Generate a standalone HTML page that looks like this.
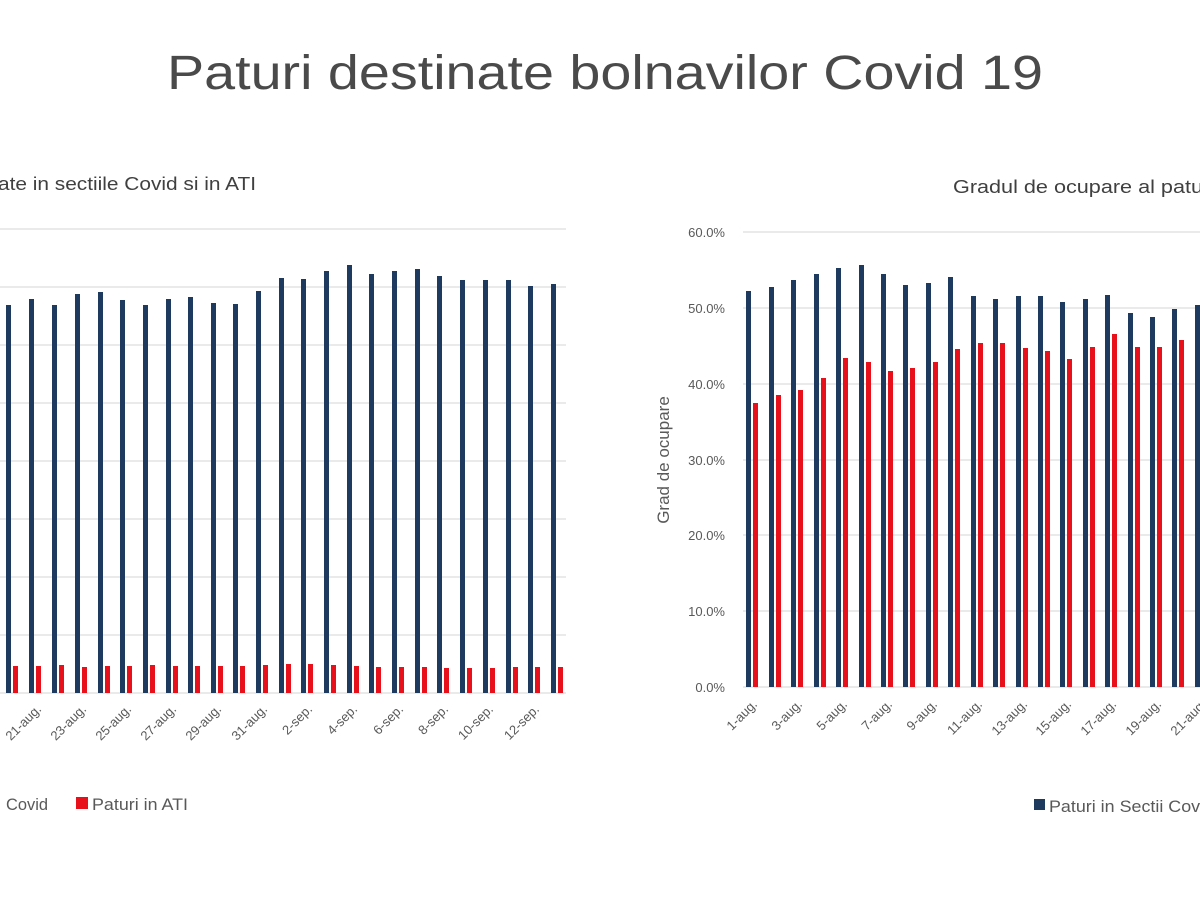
<!DOCTYPE html>
<html><head><meta charset="utf-8"><style>
html,body{margin:0;padding:0;background:#fff;width:1200px;height:900px;overflow:hidden}
svg{display:block}
text{font-family:"Liberation Sans",sans-serif;fill:#595959}
</style></head><body>
<svg width="1200" height="900" viewBox="0 0 1200 900">
<text x="605" y="89" text-anchor="middle" font-size="48" style="fill:#4a4a4a" textLength="876" lengthAdjust="spacingAndGlyphs">Paturi destinate bolnavilor Covid 19</text>

<!-- LEFT CHART -->
<text x="-2" y="190" font-size="18" style="fill:#404040" textLength="258" lengthAdjust="spacingAndGlyphs">ate in sectiile Covid si in ATI</text>
<g stroke="#e3e3e3" stroke-width="1.5">
<line x1="0" x2="566" y1="229" y2="229"/><line x1="0" x2="566" y1="287" y2="287"/><line x1="0" x2="566" y1="345" y2="345"/><line x1="0" x2="566" y1="403" y2="403"/><line x1="0" x2="566" y1="461" y2="461"/><line x1="0" x2="566" y1="519" y2="519"/><line x1="0" x2="566" y1="577" y2="577"/><line x1="0" x2="566" y1="635" y2="635"/><line x1="0" x2="566" y1="693" y2="693"/>
</g>
<g fill="#1f3a5f">
<rect x="6" y="305" width="5" height="388"/><rect x="29" y="299" width="5" height="394"/><rect x="52" y="305" width="5" height="388"/><rect x="75" y="294" width="5" height="399"/><rect x="98" y="292" width="5" height="401"/><rect x="120" y="300" width="5" height="393"/><rect x="143" y="305" width="5" height="388"/><rect x="166" y="299" width="5" height="394"/><rect x="188" y="297" width="5" height="396"/><rect x="211" y="303" width="5" height="390"/><rect x="233" y="304" width="5" height="389"/><rect x="256" y="291" width="5" height="402"/><rect x="279" y="278" width="5" height="415"/><rect x="301" y="279" width="5" height="414"/><rect x="324" y="271" width="5" height="422"/><rect x="347" y="265" width="5" height="428"/><rect x="369" y="274" width="5" height="419"/><rect x="392" y="271" width="5" height="422"/><rect x="415" y="269" width="5" height="424"/><rect x="437" y="276" width="5" height="417"/><rect x="460" y="280" width="5" height="413"/><rect x="483" y="280" width="5" height="413"/><rect x="506" y="280" width="5" height="413"/><rect x="528" y="286" width="5" height="407"/><rect x="551" y="284" width="5" height="409"/>
</g>
<g fill="#e8101a">
<rect x="13" y="666" width="5" height="27"/><rect x="36" y="666" width="5" height="27"/><rect x="59" y="665" width="5" height="28"/><rect x="82" y="667" width="5" height="26"/><rect x="105" y="666" width="5" height="27"/><rect x="127" y="666" width="5" height="27"/><rect x="150" y="665" width="5" height="28"/><rect x="173" y="666" width="5" height="27"/><rect x="195" y="666" width="5" height="27"/><rect x="218" y="666" width="5" height="27"/><rect x="240" y="666" width="5" height="27"/><rect x="263" y="665" width="5" height="28"/><rect x="286" y="664" width="5" height="29"/><rect x="308" y="664" width="5" height="29"/><rect x="331" y="665" width="5" height="28"/><rect x="354" y="666" width="5" height="27"/><rect x="376" y="667" width="5" height="26"/><rect x="399" y="667" width="5" height="26"/><rect x="422" y="667" width="5" height="26"/><rect x="444" y="668" width="5" height="25"/><rect x="467" y="668" width="5" height="25"/><rect x="490" y="668" width="5" height="25"/><rect x="513" y="667" width="5" height="26"/><rect x="535" y="667" width="5" height="26"/><rect x="558" y="667" width="5" height="26"/>
</g>
<g font-size="13" text-anchor="end">
<text transform="translate(42,710) rotate(-45)">21-aug.</text>
<text transform="translate(87,710) rotate(-45)">23-aug.</text>
<text transform="translate(132,710) rotate(-45)">25-aug.</text>
<text transform="translate(177,710) rotate(-45)">27-aug.</text>
<text transform="translate(222,710) rotate(-45)">29-aug.</text>
<text transform="translate(268,710) rotate(-45)">31-aug.</text>
<text transform="translate(313,710) rotate(-45)">2-sep.</text>
<text transform="translate(358,710) rotate(-45)">4-sep.</text>
<text transform="translate(404,710) rotate(-45)">6-sep.</text>
<text transform="translate(449,710) rotate(-45)">8-sep.</text>
<text transform="translate(494,710) rotate(-45)">10-sep.</text>
<text transform="translate(540,710) rotate(-45)">12-sep.</text>
</g>
<text x="6" y="810" font-size="17" textLength="42" lengthAdjust="spacingAndGlyphs">Covid</text>
<rect x="76" y="797" width="12" height="12" fill="#e8101a"/>
<text x="92" y="810" font-size="17" textLength="96" lengthAdjust="spacingAndGlyphs">Paturi in ATI</text>

<!-- RIGHT CHART -->
<text x="953" y="193" font-size="18" style="fill:#404040" textLength="262" lengthAdjust="spacingAndGlyphs">Gradul de ocupare al paturi</text>
<g stroke="#e3e3e3" stroke-width="1.5">
<line x1="743" x2="1200" y1="232" y2="232"/><line x1="743" x2="1200" y1="308" y2="308"/><line x1="743" x2="1200" y1="384" y2="384"/><line x1="743" x2="1200" y1="460" y2="460"/><line x1="743" x2="1200" y1="535" y2="535"/><line x1="743" x2="1200" y1="611" y2="611"/><line x1="743" x2="1200" y1="687" y2="687"/>
</g>
<g font-size="13" text-anchor="end">
<text x="725" y="237">60.0%</text><text x="725" y="313">50.0%</text><text x="725" y="389">40.0%</text><text x="725" y="465">30.0%</text><text x="725" y="540">20.0%</text><text x="725" y="616">10.0%</text><text x="725" y="692">0.0%</text>
</g>
<text transform="translate(669,460) rotate(-90)" font-size="17" text-anchor="middle">Grad de ocupare</text>
<g fill="#1f3a5f">
<rect x="746" y="291" width="5" height="396"/><rect x="769" y="287" width="5" height="400"/><rect x="791" y="280" width="5" height="407"/><rect x="814" y="274" width="5" height="413"/><rect x="836" y="268" width="5" height="419"/><rect x="859" y="265" width="5" height="422"/><rect x="881" y="274" width="5" height="413"/><rect x="903" y="285" width="5" height="402"/><rect x="926" y="283" width="5" height="404"/><rect x="948" y="277" width="5" height="410"/><rect x="971" y="296" width="5" height="391"/><rect x="993" y="299" width="5" height="388"/><rect x="1016" y="296" width="5" height="391"/><rect x="1038" y="296" width="5" height="391"/><rect x="1060" y="302" width="5" height="385"/><rect x="1083" y="299" width="5" height="388"/><rect x="1105" y="295" width="5" height="392"/><rect x="1128" y="313" width="5" height="374"/><rect x="1150" y="317" width="5" height="370"/><rect x="1172" y="309" width="5" height="378"/><rect x="1195" y="305" width="5" height="382"/>
</g>
<g fill="#e8101a">
<rect x="753" y="403" width="5" height="284"/><rect x="776" y="395" width="5" height="292"/><rect x="798" y="390" width="5" height="297"/><rect x="821" y="378" width="5" height="309"/><rect x="843" y="358" width="5" height="329"/><rect x="866" y="362" width="5" height="325"/><rect x="888" y="371" width="5" height="316"/><rect x="910" y="368" width="5" height="319"/><rect x="933" y="362" width="5" height="325"/><rect x="955" y="349" width="5" height="338"/><rect x="978" y="343" width="5" height="344"/><rect x="1000" y="343" width="5" height="344"/><rect x="1023" y="348" width="5" height="339"/><rect x="1045" y="351" width="5" height="336"/><rect x="1067" y="359" width="5" height="328"/><rect x="1090" y="347" width="5" height="340"/><rect x="1112" y="334" width="5" height="353"/><rect x="1135" y="347" width="5" height="340"/><rect x="1157" y="347" width="5" height="340"/><rect x="1179" y="340" width="5" height="347"/>
</g>
<g font-size="13" text-anchor="end">
<text transform="translate(758,705) rotate(-45)">1-aug.</text>
<text transform="translate(803,705) rotate(-45)">3-aug.</text>
<text transform="translate(848,705) rotate(-45)">5-aug.</text>
<text transform="translate(893,705) rotate(-45)">7-aug.</text>
<text transform="translate(938,705) rotate(-45)">9-aug.</text>
<text transform="translate(983,705) rotate(-45)">11-aug.</text>
<text transform="translate(1028,705) rotate(-45)">13-aug.</text>
<text transform="translate(1072,705) rotate(-45)">15-aug.</text>
<text transform="translate(1117,705) rotate(-45)">17-aug.</text>
<text transform="translate(1162,705) rotate(-45)">19-aug.</text>
<text transform="translate(1207,705) rotate(-45)">21-aug.</text>
</g>
<rect x="1034" y="799" width="11" height="11" fill="#1f3a5f"/>
<text x="1049" y="812" font-size="17" textLength="165" lengthAdjust="spacingAndGlyphs">Paturi in Sectii Covid</text>
</svg>
</body></html>
